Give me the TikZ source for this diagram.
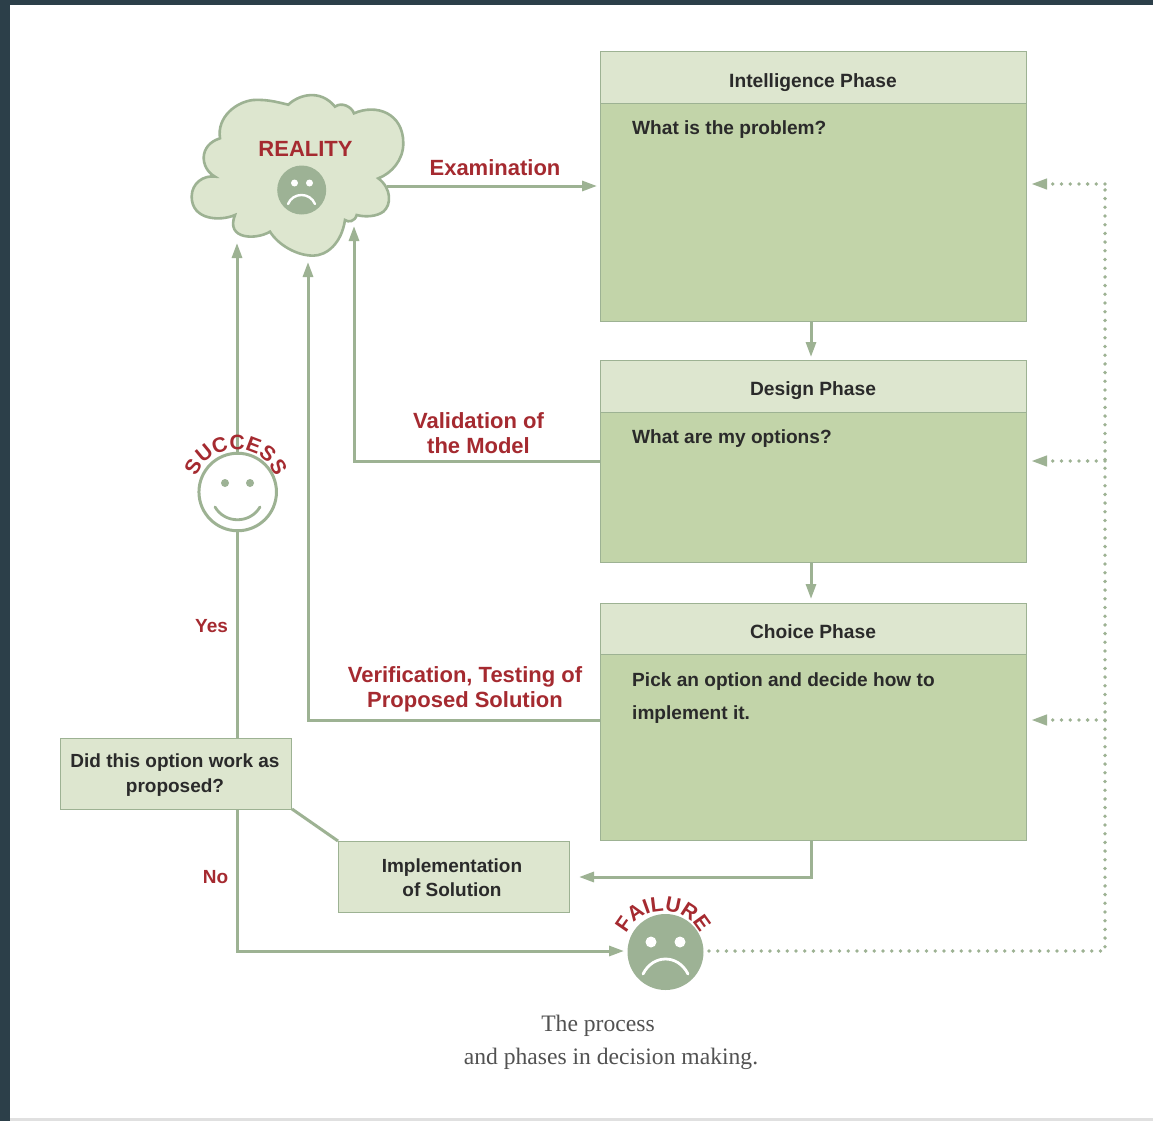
\documentclass[tikz,border=0pt]{standalone}
\usepackage{fontspec}
\setmainfont{Liberation Sans}
\newfontfamily\capfont{Liberation Serif}
\usetikzlibrary{arrows.meta,decorations.text}
\definecolor{headfill}{HTML}{DDE6CF}
\definecolor{bodyfill}{HTML}{C2D4A9}
\definecolor{edgegreen}{HTML}{9DB293}
\definecolor{facegreen}{HTML}{9DB295}
\definecolor{redtext}{HTML}{A52A30}
\definecolor{darktext}{HTML}{2A2A2A}
\definecolor{framedark}{HTML}{2C3F49}
\tikzset{
  headbox/.style={draw=edgegreen,line width=1.4pt,fill=headfill,anchor=north west,inner sep=0pt},
  bodybox/.style={draw=edgegreen,line width=1.4pt,fill=bodyfill,anchor=north west,inner sep=0pt},
  headtext/.style={inner sep=0pt,text=darktext,font=\fontsize{19.2}{25}\selectfont\bfseries,align=center},
  bodytext/.style={anchor=west,inner sep=0pt,text=darktext,font=\fontsize{19.1}{33}\selectfont\bfseries,align=left},
  redlabel/.style={inner sep=0pt,text=redtext,font=\fontsize{22}{25}\selectfont\bfseries,align=center},
  smallred/.style={inner sep=0pt,text=redtext,font=\fontsize{19}{23}\selectfont\bfseries},
  flow/.style={draw=edgegreen,line width=3pt},
  flowarrow/.style={flow,-{Triangle[length=15pt,width=10pt]}},
  dots/.style={draw=edgegreen,line width=3.8pt,line cap=round,dash pattern=on 0pt off 8.7pt},
  dotarrow/.style={dots,-{Triangle[length=16pt,width=10pt]}},
  facefill/.style={fill=facegreen,draw=none,circle,inner sep=0pt},
  caption/.style={inner sep=0pt,text=black!68,font=\capfont\fontsize{23.6}{30}\selectfont},
  arctext/.style={decorate,decoration={text along path,text align=center,raise=0pt}}
}
\begin{document}
\begin{tikzpicture}[x=1pt,y=-1pt]
\useasboundingbox (0,0) rectangle (1153,1121);
\fill[white] (0,0) rectangle (1153,1121);
\fill[framedark] (0,0) rectangle (1153,5);
\fill[framedark] (0,0) rectangle (10,1121);
\fill[black!12] (10,1118) rectangle (1153,1121);

% boxes
\node[bodybox,minimum width=426pt,minimum height=270pt] (ibody) at (600,51) {};
\node[headbox,minimum width=426pt,minimum height=52pt] (ihead) at (600,51) {};
\node[bodybox,minimum width=426pt,minimum height=202pt] (dbody) at (600,360) {};
\node[headbox,minimum width=426pt,minimum height=52pt] (dhead) at (600,360) {};
\node[bodybox,minimum width=426pt,minimum height=237pt] (cbody) at (600,603) {};
\node[headbox,minimum width=426pt,minimum height=51pt] (chead) at (600,603) {};
\node[headtext] (ititle) at (813,83) {Intelligence Phase};
\node[headtext] (dtitle) at (813,390.5) {Design Phase};
\node[headtext] (ctitle) at (813,632) {Choice Phase};
\node[bodytext] (itext) at (632,130) {What is the problem?};
\node[bodytext] (dtext) at (632,439) {What are my options?};
\node[bodytext,anchor=north west] (ctext) at (632,672) {Pick an option and decide how to\\implement it.};
\node[headbox,minimum width=231pt,minimum height=71pt] (did) at (60,738) {};
\node[headbox,minimum width=231pt,minimum height=71pt] (impl) at (338,841) {};
\node[headtext,font=\fontsize{19}{25}\selectfont\bfseries] (didtext) at (175,775) {Did this option work as\\proposed?};
\node[headtext,font=\fontsize{19}{24}\selectfont\bfseries] (impltext) at (452,878) {Implementation\\of Solution};

% cloud
\begin{scope}[shift={(170,80)},x=0.3333pt,y=-0.3333pt]
\draw[draw=edgegreen,line width=2.6pt,fill=headfill]
 (150,175) .. controls (140,110) and (200,65) .. (250,60)
 .. controls (295,57) and (335,70) .. (355,74)
 .. controls (385,45) and (450,25) .. (495,80)
 .. controls (515,65) and (545,80) .. (552,100)
 .. controls (620,70) and (700,100) .. (700,190)
 .. controls (700,240) and (665,280) .. (625,295)
 .. controls (665,325) and (665,375) .. (640,395)
 .. controls (620,410) and (585,412) .. (560,405)
 .. controls (555,425) and (535,428) .. (525,420)
 .. controls (515,490) and (470,527) .. (430,527)
 .. controls (380,527) and (325,495) .. (300,455)
 .. controls (260,480) and (165,480) .. (195,405)
 .. controls (150,425) and (65,420) .. (65,350)
 .. controls (65,310) and (100,285) .. (135,290)
 .. controls (90,265) and (85,195) .. (150,175) -- cycle;
\end{scope}
\node[redlabel] (reality) at (305.5,148.5) {REALITY};
\node[facefill,minimum size=49pt] (rface) at (301.7,190) {};
\node[circle,fill=white,inner sep=0pt,minimum size=7pt] (reye1) at (294.5,183) {};
\node[circle,fill=white,inner sep=0pt,minimum size=7pt] (reye2) at (309.5,183) {};
\coordinate (rm1) at (288,204); \coordinate (rm2) at (315,204);
\draw[white,line width=2.4pt,line cap=round] (rm1) .. controls (293,192) and (310,192) .. (rm2);

% faces
\coordinate (ctop) at (237,453);
\coordinate (cbot) at (237,532);
\node[circle,draw=edgegreen,line width=3pt,fill=white,minimum size=77.5pt,inner sep=0pt] (sface) at (237.7,492) {};
\node[facefill,minimum size=8pt] (seye1) at (225,483) {};
\node[facefill,minimum size=8pt] (seye2) at (250,483) {};
\coordinate (sm1) at (215,507); \coordinate (sm2) at (260,507);
\draw[edgegreen,line width=2.8pt,line cap=round] (sm1) .. controls (225,524) and (250,524) .. (sm2);
\node[facefill,minimum size=76pt] (fface) at (665.5,952) {};
\node[circle,fill=white,inner sep=0pt,minimum size=11pt] (feye1) at (651,942) {};
\node[circle,fill=white,inner sep=0pt,minimum size=11pt] (feye2) at (680,942) {};
\coordinate (fm1) at (643,974); \coordinate (fm2) at (688,974);
\draw[white,line width=2.8pt,line cap=round] (fm1) .. controls (653,954) and (678,954) .. (fm2);

% connector coordinates
\coordinate (cloudE) at (387,186);
\coordinate (ex) at (597,186);
\coordinate (cloudA) at (354,226);
\coordinate (cloudB) at (308,262);
\coordinate (cloudC) at (237,243);
\coordinate (dleft) at (600,461);
\coordinate (vbend) at (354,461);
\coordinate (cleft) at (600,720);
\coordinate (tbend) at (308,720);
\coordinate (did1) at (237,738);
\coordinate (did2) at (237,809);
\coordinate (nobend) at (237,951);
\coordinate (cdown) at (811,840);
\coordinate (cbend) at (811,877);
\coordinate (impr) at (579,877);
\coordinate (didc) at (292,809);
\coordinate (impc) at (338,841);
\coordinate (ibot) at (811,321);
\coordinate (dtop) at (811,357);
\coordinate (dbot) at (811,562);
\coordinate (ctopb) at (811,599);
\coordinate (fleft) at (624,951);
\coordinate (fright) at (709,951);
\coordinate (dcorner) at (1105,951);
\coordinate (dtopc) at (1105,184);
\coordinate (d2) at (1105,461);
\coordinate (d3) at (1105,720);
\coordinate (ia) at (1031,184);
\coordinate (da) at (1031,461);
\coordinate (ca) at (1031,720);

% connectors
\draw[flowarrow] (cloudE) -- (ex);
\draw[flowarrow] (ibot) -- (dtop);
\draw[flowarrow] (dbot) -- (ctopb);
\draw[flowarrow] (dleft) -- (vbend) -- (cloudA);
\draw[flowarrow] (cleft) -- (tbend) -- (cloudB);
\draw[flowarrow] (ctop) -- (cloudC);
\draw[flow] (cbot) -- (did1);
\draw[flowarrow] (did2) -- (nobend) -- (fleft);
\draw[flowarrow] (cdown) -- (cbend) -- (impr);
\draw[flow] (didc) -- (impc);
\draw[dots] (fright) -- (dcorner) -- (dtopc);
\draw[dotarrow] (dtopc) -- (ia);
\draw[dotarrow] (d2) -- (da);
\draw[dotarrow] (d3) -- (ca);

% curved words
\path[arctext,decoration={text={|\fontsize{21}{21}\selectfont\bfseries\color{redtext}|SUCCESS}}]
  (195.1,480.8) .. controls (206.2,439.3) and (265.2,439.3) .. (276.3,480.8);
\path[arctext,decoration={text={|\fontsize{21}{21}\selectfont\bfseries\color{redtext}|FAILURE}}]
  (623.4,941.4) .. controls (634.3,900.9) and (691.7,900.9) .. (702.6,941.4);

% labels
\node[redlabel] (lex) at (495,167.5) {Examination};
\node[redlabel] (lval) at (478.5,433) {Validation of\\the Model};
\node[redlabel] (lver) at (465,689.5) {Verification, Testing of\\Proposed Solution};
\node[smallred] (lyes) at (211.5,626) {Yes};
\node[smallred] (lno) at (215.5,877) {No};
\node[caption] (cap1) at (598,1026) {The process};
\node[caption] (cap2) at (611,1059) {and phases in decision making.};
\end{tikzpicture}
\end{document}
